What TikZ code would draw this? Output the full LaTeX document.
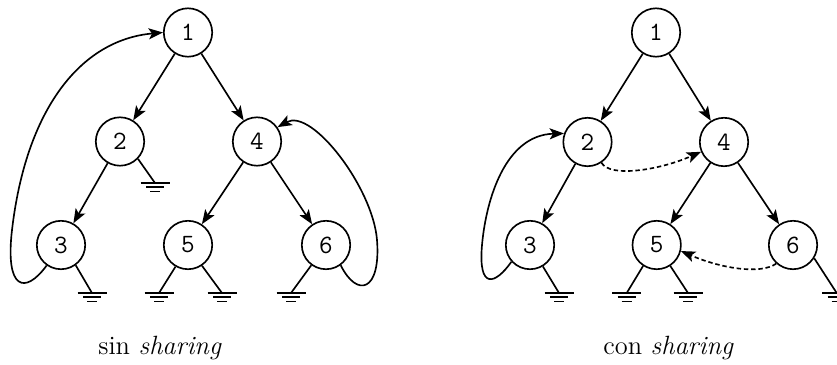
\documentclass[tikz,border=0pt]{standalone}
\usetikzlibrary{arrows.meta}
\begin{document}
\begin{tikzpicture}[x=0.4545pt,y=-0.4545pt, line width=0.75pt,
  tn/.style={circle,draw,minimum size=22pt,inner sep=0pt,font=\ttfamily\large},
  tarr/.style={-{Stealth[length=6.5pt,width=5pt,inset=1.5pt]}},
  sharr/.style={tarr,dash pattern=on 2pt off 1.3pt},
  gnd/.pic={\draw (-14.5,0)--(14.5,0) (-9,4.3)--(9,4.3) (-5,8.6)--(5,8.6);},
  captxt/.style={font=\large,anchor=base,inner sep=0pt}]
\useasboundingbox (0,0) rectangle (837,364);

% ---------- left tree: sin sharing ----------
\node[tn] (a1) at (188,32.5) {1};
\node[tn] (a2) at (120,141.5) {2};
\node[tn] (a4) at (257,141.5) {4};
\node[tn] (a3) at (61,245) {3};
\node[tn] (a5) at (188,245) {5};
\node[tn] (a6) at (326,245) {6};

\draw[tarr] (a1) -- (a2);
\draw[tarr] (a1) -- (a4);
\draw[tarr] (a2) -- (a3);
\draw[tarr] (a4) -- (a5);
\draw[tarr] (a4) -- (a6);

\coordinate (ga2) at (155,183);
\coordinate (ga3) at (92,293);
\coordinate (ga5l) at (159,293);
\coordinate (ga5r) at (222,293);
\coordinate (ga6) at (291,293);
\draw (a2.-44) -- (ga2);
\draw (a3.-54) -- (ga3);
\draw (a5.-120) -- (ga5l);
\draw (a5.-56) -- (ga5r);
\draw (a6.-126) -- (ga6);
\foreach \g in {ga2,ga3,ga5l,ga5r,ga6} { \pic at (\g) {gnd}; }

\draw[tarr] (a3.-125) .. controls (25,295) and (5,290) .. (12,230)
  .. controls (26,110) and (80,40) .. (a1.west);
\draw[tarr] (a6.-54) .. controls (357,298) and (381,292) .. (377,240)
  .. controls (373,188) and (312,108) .. (a4.35);

\node[captxt] (capa) at (160,354) {sin \textit{sharing}};

% ---------- right tree: con sharing ----------
\node[tn] (b1) at (656,32.5) {1};
\node[tn] (b2) at (587.5,142) {2};
\node[tn] (b4) at (724,142) {4};
\node[tn] (b3) at (530,245) {3};
\node[tn] (b5) at (656.7,245) {5};
\node[tn] (b6) at (793,245) {6};

\draw[tarr] (b1) -- (b2);
\draw[tarr] (b1) -- (b4);
\draw[tarr] (b2) -- (b3);
\draw[tarr] (b4) -- (b5);
\draw[tarr] (b4) -- (b6);

\coordinate (gb3) at (559,293);
\coordinate (gb5l) at (626.7,293);
\coordinate (gb5r) at (688,293);
\coordinate (gb6) at (836.7,293);
\draw (b3.-59) -- (gb3);
\draw (b5.-123) -- (gb5l);
\draw (b5.-57) -- (gb5r);
\draw (b6.-32) -- (gb6);
\foreach \g in {gb3,gb5l,gb5r,gb6} { \pic at (\g) {gnd}; }

\draw[tarr] (b3.-138) .. controls (495,285) and (478,290) .. (482,245)
  .. controls (486,200) and (505,135) .. (b2.160);
\draw[sharr] (b2.-56) .. controls (610,178) and (660,170) .. (b4.-157);
\draw[sharr] (b6.-132) .. controls (760,275) and (720,268) .. (b5.-14);

\node[captxt] (capb) at (668.5,354) {con \textit{sharing}};
\end{tikzpicture}
\end{document}
